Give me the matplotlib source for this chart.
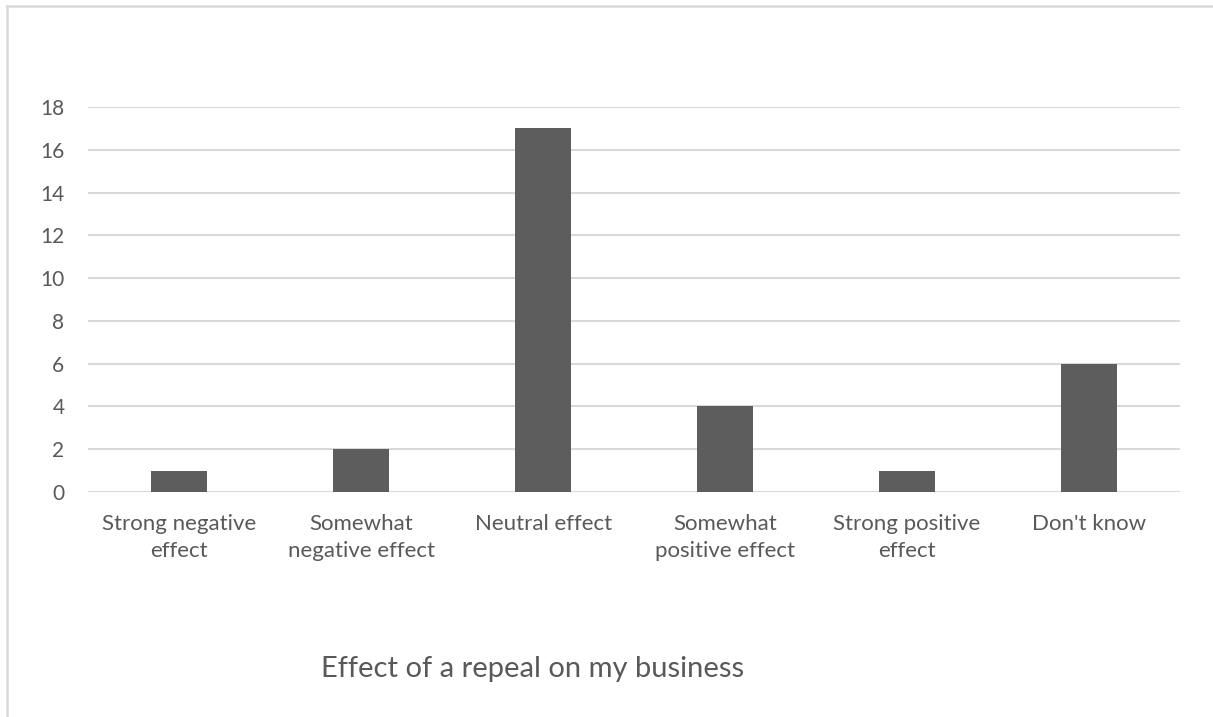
import matplotlib
matplotlib.use("Agg")
import matplotlib.pyplot as plt
from matplotlib.lines import Line2D

categories = ["Strong negative\neffect", "Somewhat\nnegative effect", "Neutral effect",
              "Somewhat\npositive effect", "Strong positive\neffect", "Don't know"]
counts = [1, 2, 17, 4, 1, 6]
yticks = [0, 2, 4, 6, 8, 10, 12, 14, 16, 18]
title = "Effect of a repeal on my business"

plt.rcParams['font.family'] = ['Lato', 'DejaVu Sans']
txt = "#595959"
grid = "#d9d9d9"

fig = plt.figure(figsize=(12.13, 7.17), dpi=100)
ax = fig.add_axes([0.0726, 0.3138, 0.9003, 0.537])

x = range(len(categories))
ax.bar(x, counts, width=0.31, color="#5d5d5d", zorder=3)

ax.set_xlim(-0.5, len(categories) - 0.5)
ax.set_ylim(0, 18)
ax.set_yticks(yticks)
ax.set_xticks(list(x))
ax.set_xticklabels(categories, fontsize=16, color=txt, linespacing=1.45)
ax.tick_params(axis='y', labelsize=15, labelcolor=txt, length=0, pad=17)
ax.tick_params(axis='x', length=0, pad=16)
ax.yaxis.grid(True, color=grid, linewidth=1.5, zorder=0)
for s in ax.spines.values():
    s.set_visible(False)

fig.text(0.4394, 0.067, title, fontsize=21, color=txt, ha='center', va='center')

# chart frame (only top and left visible)
fig.add_artist(Line2D([7 / 1213, 1], [1 - 6 / 717, 1 - 6 / 717], color=grid, lw=1.8))
fig.add_artist(Line2D([7 / 1213, 7 / 1213], [0, 1 - 6 / 717], color=grid, lw=1.8))

fig.savefig("out.png", dpi=100)
